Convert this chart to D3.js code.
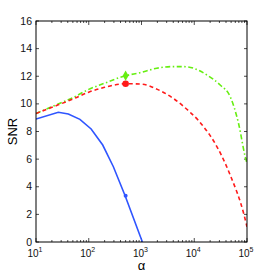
<!DOCTYPE html>
<html>
<head>
<meta charset="utf-8">
<script src="https://cdn.jsdelivr.net/npm/d3@7"></script>
<style>
  body { margin: 0; background: #fff; }
  svg { display: block; font-family: "Liberation Sans", Arial, sans-serif; }
</style>
</head>
<body>
<svg></svg>
<script>
var w = 273, h = 273;
var margin = {left: 36, right: 26, top: 21, bottom: 31};

// blue solid
var blueAlpha = [10, 26.5, 41, 68, 111, 184, 293, 489, 1040];
var blueSnr = [8.9, 9.39, 9.27, 8.88, 8.18, 7.02, 5.45, 3.35, 0];
// red dashed
var redAlpha = [10, 20, 50, 100, 200, 500, 1000, 2000, 4000, 8300, 12000, 15000, 23000, 48000, 86000, 100000];
var redSnr = [9.3, 9.75, 10.35, 10.85, 11.2, 11.46, 11.43, 11.05, 10.4, 9.4, 8.8, 8.35, 7.35, 4.85, 2.1, 1.1];
// green dash-dot
var greenAlpha = [10, 20, 50, 100, 200, 500, 940, 1950, 4000, 6200, 9700, 17400, 31000, 48000, 69000, 92500, 100000];
var greenSnr = [9.3, 9.8, 10.45, 11.05, 11.5, 12.04, 12.26, 12.58, 12.7, 12.7, 12.58, 12.09, 11.37, 10.52, 8.6, 6.18, 5.7];

var markAlpha = 500;
var markSnr = {blue: 3.35, red: 11.46, green: 12.04};

var xDecades = [1, 2, 3, 4, 5];
var yTicks = [0, 2, 4, 6, 8, 10, 12, 14, 16];

var vis = d3.select("svg").attr("width", w).attr("height", h);

var x = d3.scaleLog().domain([10, 100000]).range([margin.left, w - margin.right]);
var y = d3.scaleLinear().domain([0, 16]).range([h - margin.bottom, margin.top]);

var x0 = margin.left, x1 = w - margin.right, y0 = h - margin.bottom, y1 = margin.top;

// minor + major ticks on x (top and bottom, inward)
var minor = [];
for (var d = 1; d < 5; d++) {
  for (var k = 2; k < 10; k++) minor.push(k * Math.pow(10, d));
}
var tg = vis.append("g").attr("stroke", "#000").attr("stroke-width", 0.7);
minor.forEach(function(v) {
  tg.append("line").attr("x1", x(v)).attr("x2", x(v)).attr("y1", y0).attr("y2", y0 - 2);
  tg.append("line").attr("x1", x(v)).attr("x2", x(v)).attr("y1", y1).attr("y2", y1 + 2);
});
xDecades.forEach(function(e) {
  var v = Math.pow(10, e);
  tg.append("line").attr("x1", x(v)).attr("x2", x(v)).attr("y1", y0).attr("y2", y0 - 4);
  tg.append("line").attr("x1", x(v)).attr("x2", x(v)).attr("y1", y1).attr("y2", y1 + 4);
});
yTicks.forEach(function(v) {
  tg.append("line").attr("x1", x0).attr("x2", x0 + 3).attr("y1", y(v)).attr("y2", y(v));
  tg.append("line").attr("x1", x1).attr("x2", x1 - 3).attr("y1", y(v)).attr("y2", y(v));
});

// tick labels
vis.selectAll(".yl").data(yTicks).enter().append("text")
  .attr("x", x0 - 4).attr("y", function(d) { return y(d) + 3.5; })
  .attr("text-anchor", "end").attr("font-size", 10.5).attr("fill", "#111")
  .text(function(d) { return d; });

xDecades.forEach(function(e) {
  var t = vis.append("text")
    .attr("x", x(Math.pow(10, e)) - 1).attr("y", y0 + 15)
    .attr("text-anchor", "middle").attr("font-size", 10).attr("fill", "#111");
  t.append("tspan").text("10");
  t.append("tspan").attr("font-size", 7).attr("dy", -5).text(e);
});

vis.append("text").attr("x", (x0 + x1) / 2).attr("y", y0 + 28)
  .attr("text-anchor", "middle").attr("font-size", 13).text("α");
vis.append("text").attr("transform", "translate(17," + ((y0 + y1) / 2) + ") rotate(-90)")
  .attr("text-anchor", "middle").attr("font-size", 13).text("SNR");

// clip
vis.append("clipPath").attr("id", "clip").append("rect")
  .attr("x", x0).attr("y", y1).attr("width", x1 - x0).attr("height", y0 - y1);

var line = d3.line().x(function(d) { return x(d[0]); }).y(function(d) { return y(d[1]); });
var smooth = d3.line().curve(d3.curveMonotoneX)
  .x(function(d) { return x(d[0]); }).y(function(d) { return y(d[1]); });
var plot = vis.append("g").attr("clip-path", "url(#clip)");

plot.append("path").datum(d3.zip(greenAlpha, greenSnr)).attr("d", smooth)
  .attr("fill", "none").attr("stroke", "#66ee11").attr("stroke-width", 1.6)
  .attr("stroke-dasharray", "5,2.5,1.5,2.5");
plot.append("path").datum(d3.zip(redAlpha, redSnr)).attr("d", smooth)
  .attr("fill", "none").attr("stroke", "#ff1a1a").attr("stroke-width", 1.6)
  .attr("stroke-dasharray", "4,3");
plot.append("path").datum(d3.zip(blueAlpha, blueSnr)).attr("d", line)
  .attr("fill", "none").attr("stroke", "#2f55ff").attr("stroke-width", 1.6);

// markers
vis.append("circle").attr("cx", x(markAlpha)).attr("cy", y(markSnr.red)).attr("r", 3.3).attr("fill", "#ff1a1a");
vis.append("circle").attr("cx", x(markAlpha)).attr("cy", y(markSnr.blue)).attr("r", 2).attr("fill", "#2f55ff");
vis.append("path").attr("d", d3.symbol().type(d3.symbolDiamond).size(30)())
  .attr("transform", "translate(" + x(markAlpha) + "," + y(markSnr.green) + ")").attr("fill", "#66ee11");

// box
vis.append("rect").attr("x", x0).attr("y", y1).attr("width", x1 - x0).attr("height", y0 - y1)
  .attr("fill", "none").attr("stroke", "#000").attr("stroke-width", 1);
</script>
</body>
</html>
